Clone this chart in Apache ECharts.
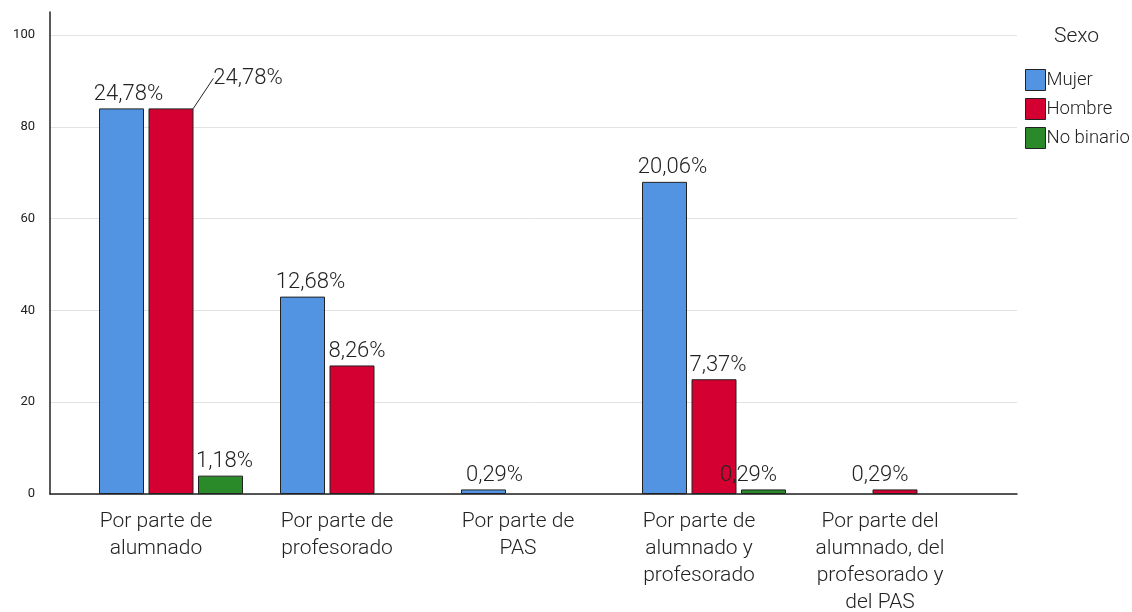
<!DOCTYPE html>
<html>
<head>
<meta charset="utf-8">
<script src="https://cdn.jsdelivr.net/npm/echarts@6/dist/echarts.min.js"></script>
<style>
  html, body { margin: 0; padding: 0; background: #fff; }
  #chart { width: 1132px; height: 612px; }
</style>
</head>
<body>
<div id="chart"></div>
<script>
// Categorías de agresor y recuentos por sexo
const categories = [
  'Por parte de\nalumnado',
  'Por parte de\nprofesorado',
  'Por parte de\nPAS',
  'Por parte de\nalumnado y\nprofesorado',
  'Por parte del\nalumnado, del\nprofesorado y\ndel PAS'
];
const seriesNames = ['Mujer', 'Hombre', 'No binario'];
const mujer = [84, 43, 1, 68, null];
const hombre = [84, 28, null, 25, 1];
const noBinario = [4, null, null, 1, null];
const total = 339;
const yTicks = [0, 20, 40, 60, 80, 100];

const colors = ['#5294E2', '#D50032', '#2A8A2A'];
const font = 'Roboto, "Noto Sans", sans-serif';

function pct(v) {
  return (v / total * 100).toFixed(2).replace('.', ',') + '%';
}

// label nudges per series / category
const nudges = {
  0: { 0: { dx: 7, dy: 0 }, 1: { dx: 8, dy: 0 }, 2: { dx: 11, dy: 0 }, 3: { dx: 8, dy: 0 } },
  1: { 0: { dx: 77, dy: -16, line: true }, 1: { dx: 5, dy: 0 }, 3: { dx: 4, dy: 0 }, 4: { dx: -15, dy: 0 } },
  2: { 0: { dx: 4, dy: 0 }, 3: { dx: -15, dy: 0 } }
};

function makeSeries(name, values, idx) {
  const data = values.map((v, i) => {
    const n = nudges[idx] && nudges[idx][i];
    return n && n.line ? { value: v, labelLine: { show: true } } : v;
  });
  return {
    name: name,
    type: 'bar',
    xAxisIndex: 1,
    yAxisIndex: 1,
    data: data,
    barWidth: 45,
    barGap: '10%',
    itemStyle: { color: colors[idx], borderColor: '#222', borderWidth: 1 },
    label: {
      show: true,
      position: 'top',
      distance: 3,
      fontFamily: font,
      fontWeight: 300,
      fontSize: 22,
      color: '#222',
      formatter: p => (p.value == null ? '' : pct(p.value))
    },
    labelLine: { show: false, lineStyle: { color: '#222', width: 1 } },
    labelLayout: function (p) {
      const n = nudges[idx] && nudges[idx][p.dataIndex];
      if (!n) return {};
      return { dx: n.dx, dy: n.dy };
    }
  };
}

const chart = echarts.init(document.getElementById('chart'), null, { renderer: 'canvas' });
chart.setOption({
  backgroundColor: '#fff',
  animation: false,
  title: {
    text: 'Sexo',
    left: 1049,
    top: 21,
    textStyle: { fontFamily: font, fontWeight: 300, fontSize: 21, color: '#222' }
  },
  legend: {
    data: seriesNames,
    orient: 'vertical',
    left: 1020,
    top: 64,
    itemWidth: 20,
    itemHeight: 21,
    itemGap: 7,
    icon: 'rect',
    textStyle: { fontFamily: font, fontWeight: 300, fontSize: 18.5, color: '#222', padding: [0, 0, 0, -4] },
    itemStyle: { borderColor: '#222', borderWidth: 1 }
  },
  grid: [
    { left: 50, right: 115, top: 12, bottom: 118, outerBoundsMode: 'none' },
    { left: 80.5, right: 146.5, top: 12, bottom: 118, outerBoundsMode: 'none' }
  ],
  xAxis: [
    {
      type: 'value', gridIndex: 0, min: 0, max: 1,
      axisLine: { show: true, lineStyle: { color: '#222', width: 1.5 } },
      axisTick: { show: false }, axisLabel: { show: false }, splitLine: { show: false }
    },
    {
      type: 'category', gridIndex: 1, data: categories,
      axisLine: { show: false }, axisTick: { show: false },
      axisLabel: {
        fontFamily: font, fontWeight: 300, fontSize: 21, color: '#222',
        lineHeight: 27, margin: 14, interval: 0, padding: [0, 30, 0, 0]
      }
    }
  ],
  yAxis: [
    {
      type: 'value', gridIndex: 0, min: 0, max: 105, interval: 20,
      axisLine: { show: true, lineStyle: { color: '#222', width: 1.5 } },
      axisTick: { show: false },
      axisLabel: {
        fontFamily: font, fontSize: 13, color: '#222', margin: 15,
        formatter: v => (yTicks.indexOf(v) >= 0 ? String(v) : '')
      },
      splitLine: {
        show: true,
        lineStyle: { color: ['#e2e2e2', '#e2e2e2', '#e2e2e2', '#e2e2e2', '#e2e2e2', '#e2e2e2', 'rgba(0,0,0,0)'], width: 1 }
      }
    },
    {
      type: 'value', gridIndex: 1, min: 0, max: 105, interval: 20, show: false,
      splitLine: { show: false }
    }
  ],
  series: [
    makeSeries('Mujer', mujer, 0),
    makeSeries('Hombre', hombre, 1),
    makeSeries('No binario', noBinario, 2)
  ]
});
</script>
</body>
</html>
